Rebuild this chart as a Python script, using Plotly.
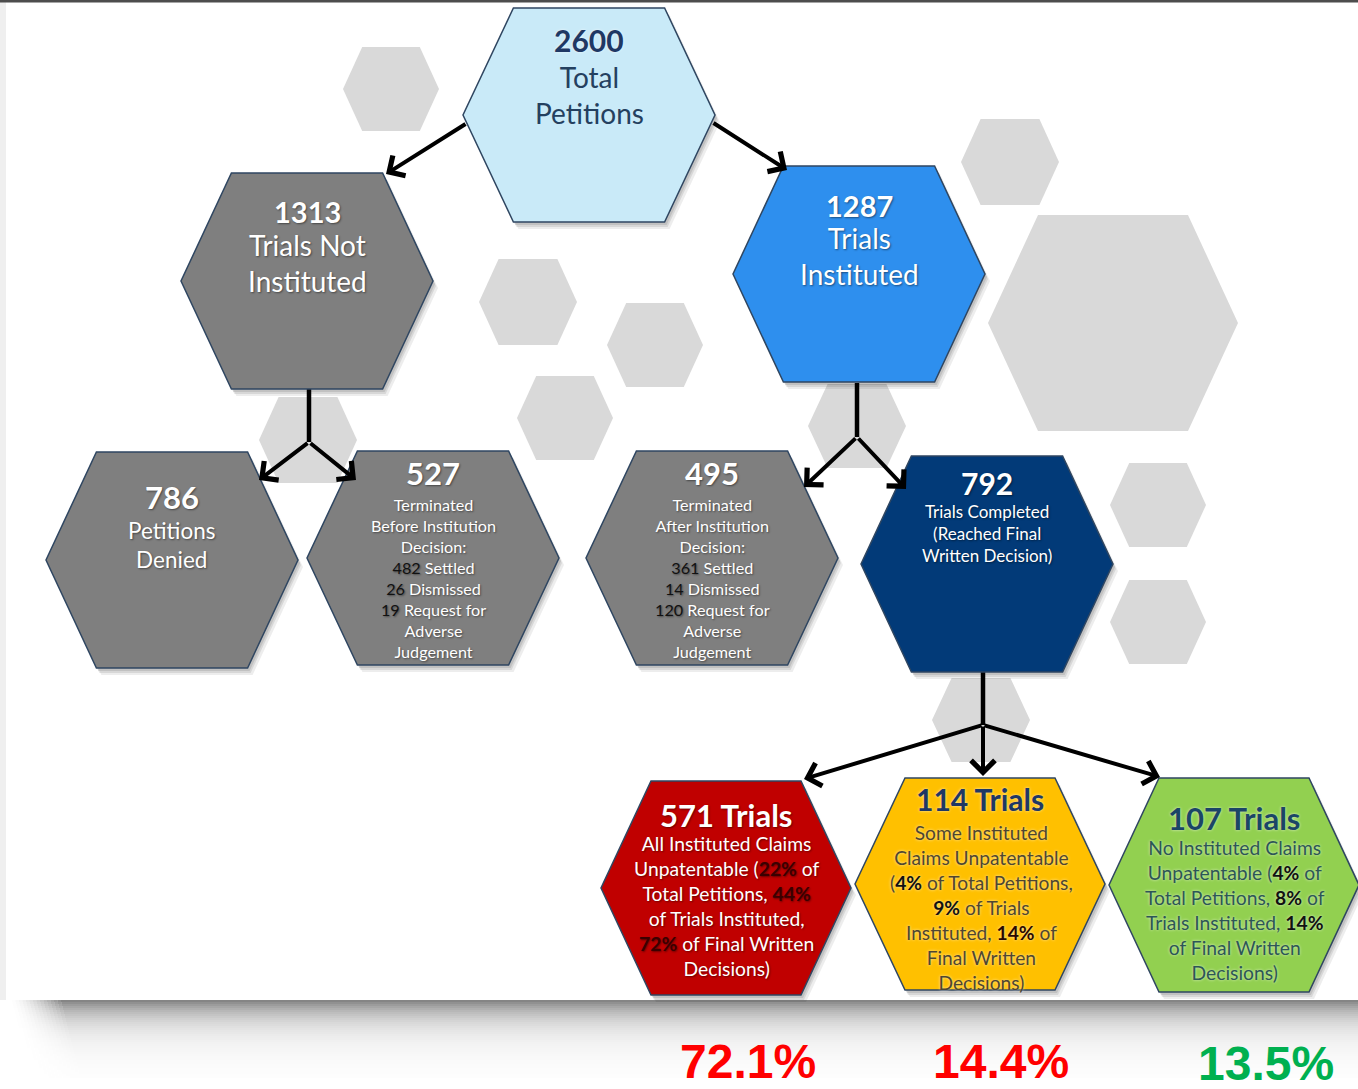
import math
import plotly.graph_objects as go

W, H = 1358, 1089

# ---------------- data ----------------
node_ids = ["total", "not_inst", "inst", "denied", "term_before",
            "term_after", "fwd", "all_unpat", "some_unpat", "no_unpat"]
node_counts = [2600, 1313, 1287, 786, 527, 495, 792, 571, 114, 107]
node_suffix = ["", "", "", "", "", "", "", " Trials", " Trials", " Trials"]
node_titles = [
    "Total<br>Petitions",
    "Trials Not<br>Instituted",
    "Trials<br>Instituted",
    "Petitions<br>Denied",
    "Terminated<br>Before Institution<br>Decision:",
    "Terminated<br>After Institution<br>Decision:",
    "Trials Completed<br>(Reached Final<br>Written Decision)",
    None, None, None,
]
before_counts = [482, 26, 19]       # settled, dismissed, request for adverse judgement
after_counts = [361, 14, 120]
outcome_pct_total = [22, 4, 4]
outcome_pct_instituted = [44, 9, 8]
outcome_pct_fwd = [72, 14, 14]
final_share_labels = ["72.1%", "14.4%", "13.5%"]

# ---------------- styles / layout ----------------
FONT = "Lato, Carlito, Calibri, sans-serif"
NARROW = "Liberation Sans Narrow, Arial Narrow, Liberation Sans, Arial"

style = {
    "total":       dict(c=(589, 115), hw=126, hh=107, fill="#c9eaf8", nc="#1f3864", ns=30, ny=40,  dc="#24405f", ds=28, dy=95),
    "not_inst":    dict(c=(307, 281), hw=126, hh=108, fill="#7f7f7f", nc="white",   ns=29, ny=211, dc="white",   ds=28, dy=263),
    "inst":        dict(c=(859, 274), hw=126, hh=108, fill="#2e8fee", nc="white",   ns=29, ny=205, dc="white",   ds=28, dy=256),
    "denied":      dict(c=(172, 560), hw=126, hh=108, fill="#7f7f7f", nc="white",   ns=31, ny=497, dc="white",   ds=22.5, dy=545),
    "term_before": dict(c=(433, 558), hw=126, hh=107, fill="#7f7f7f", nc="white",   ns=31, ny=473, dc="white",   ds=16.2, dy=578),
    "term_after":  dict(c=(712, 558), hw=126, hh=107, fill="#7f7f7f", nc="white",   ns=31, ny=473, dc="white",   ds=16.2, dy=578),
    "fwd":         dict(c=(987, 564), hw=126, hh=108, fill="#023a78", nc="white",   ns=30, ny=483, dc="white",   ds=17, dy=533),
    "all_unpat":   dict(c=(726, 888), hw=125, hh=107, fill="#c00000", nc="white",   ns=31, ny=815, dc="white",   ds=19.3, dy=906),
    "some_unpat":  dict(c=(980, 884), hw=125, hh=106, fill="#ffc000", nc="#1f3864", ns=30, ny=799, dc="#4f4630", ds=19.2, dy=907),
    "no_unpat":    dict(c=(1234, 885), hw=125, hh=107, fill="#92d050", nc="#1b4566", ns=31, ny=818, dc="#2d5656", ds=19.3, dy=910),
}
deco_hexes = [
    (391, 89, 48, 42), (1010, 162, 49, 43), (1113, 323, 125, 108),
    (528, 302, 49, 43), (655, 345, 48, 42), (565, 418, 48, 42),
    (308, 440, 49, 43), (857, 426, 49, 42), (1158, 505, 48, 42),
    (1158, 622, 48, 42), (981, 720, 49, 42),
]


def hex_path(cx, cy, hw, hh, k=0.6):
    tw = hw * k
    pts = [(cx - tw, cy - hh), (cx + tw, cy - hh), (cx + hw, cy),
           (cx + tw, cy + hh), (cx - tw, cy + hh), (cx - hw, cy)]
    return "M " + " L ".join(f"{x:.1f},{y:.1f}" for x, y in pts) + " Z"


shapes = []
# left edge of the panel
shapes.append(dict(type="rect", x0=0, x1=6, y0=0, y1=1000, fillcolor="#efefef", line_width=0))
# soft shadow below the panel (banded gradient)
PANEL_BOTTOM = 1000
band = 2
for j in range(45):
    d = j * band
    a = 0.48 * math.exp(-d / 19.0)
    if a < 0.008:
        break
    start = 12 + d * 0.25
    steps = 14
    seg = 3.5
    for k in range(steps):
        xa = start + k * seg
        shapes.append(dict(type="rect", x0=xa, x1=xa + seg, y0=PANEL_BOTTOM + d, y1=PANEL_BOTTOM + d + band,
                           fillcolor=f"rgba(0,0,0,{a * ((k + 1) / (steps + 1)) ** 1.5:.4f})", line_width=0))
    shapes.append(dict(type="rect", x0=start + steps * seg, x1=W, y0=PANEL_BOTTOM + d, y1=PANEL_BOTTOM + d + band,
                       fillcolor=f"rgba(0,0,0,{a:.4f})", line_width=0))
shapes.append(dict(type="rect", x0=6, x1=W, y0=0, y1=PANEL_BOTTOM, fillcolor="white", line_width=0))
shapes.append(dict(type="rect", x0=0, x1=W, y0=0, y1=2.5, fillcolor="#4d4d4d", line_width=0))

# decorative hexes
for cx, cy, hw, hh in deco_hexes:
    shapes.append(dict(type="path", path=hex_path(cx, cy, hw, hh), fillcolor="#d9d9d9", line_width=0))

# connector stems
stems = [((309, 388), (309, 442)), ((857, 383), (857, 437)), ((983, 672), (983, 725))]
for (x0, y0), (x1, y1) in stems:
    shapes.append(dict(type="line", x0=x0, y0=y0, x1=x1, y1=y1, line=dict(color="black", width=4.5)))

# main hexes with soft shadow
for nid in node_ids:
    s = style[nid]
    cx, cy = s["c"]
    for dx, dy, a in [(2, 3, 0.10), (3, 5, 0.09), (5, 7, 0.07)]:
        shapes.append(dict(type="path", path=hex_path(cx + dx, cy + dy, s["hw"], s["hh"]),
                           fillcolor=f"rgba(0,0,0,{a})", line_width=0))
    shapes.append(dict(type="path", path=hex_path(cx, cy, s["hw"], s["hh"]),
                       fillcolor=s["fill"], line=dict(color="#2f4661", width=1.5)))

annotations = []


def text_ann(x, y, text, size, color, shadow="none"):
    annotations.append(dict(x=x, y=y, xref="x", yref="y", text=text, showarrow=False,
                            xanchor="center", yanchor="middle", align="center",
                            font=dict(family=FONT, size=size, color=color, shadow=shadow)))


def dark(v, col="#111111", bold=False):
    t = f"<span style='color:{col}'>{v}</span>"
    return f"<b>{t}</b>" if bold else t


WHITE_SH = "1px 1px 2px rgba(0,0,0,0.45)"
LIGHT_SH = "0px 0px 3px rgba(255,255,255,0.7)"

for i, nid in enumerate(node_ids):
    s = style[nid]
    cx = s["c"][0]
    sh = WHITE_SH if s["nc"] == "white" else LIGHT_SH
    text_ann(cx, s["ny"], f"<b>{node_counts[i]}{node_suffix[i]}</b>", s["ns"], s["nc"], sh)

# descriptions
for i, nid in enumerate(node_ids[:7]):
    s = style[nid]
    txt = node_titles[i]
    if nid == "term_before":
        b = before_counts
        txt += (f"<br>{dark(b[0])} Settled<br>{dark(b[1])} Dismissed<br>"
                f"{dark(b[2])} Request for<br>Adverse<br>Judgement")
    if nid == "term_after":
        b = after_counts
        txt += (f"<br>{dark(b[0])} Settled<br>{dark(b[1])} Dismissed<br>"
                f"{dark(b[2])} Request for<br>Adverse<br>Judgement")
    sh = WHITE_SH if s["dc"] == "white" else "none"
    text_ann(s["c"][0], s["dy"], txt, s["ds"], s["dc"], sh)

pt, pi, pf = outcome_pct_total, outcome_pct_instituted, outcome_pct_fwd
RC = "#3a0000"
desc_all = (f"All Instituted Claims<br>Unpatentable ({dark(str(pt[0]) + '%', RC, True)} of<br>"
            f"Total Petitions, {dark(str(pi[0]) + '%', RC, True)}<br>of Trials Instituted,<br>"
            f"{dark(str(pf[0]) + '%', RC, True)} of Final Written<br>Decisions)")
desc_some = (f"Some Instituted<br>Claims Unpatentable<br>({dark(str(pt[1]) + '%', '#111', True)} of Total Petitions,<br>"
             f"{dark(str(pi[1]) + '%', '#111', True)} of Trials<br>Instituted, {dark(str(pf[1]) + '%', '#2a0800', True)} of<br>"
             f"Final Written<br>Decisions)")
desc_no = (f"No Instituted Claims<br>Unpatentable ({dark(str(pt[2]) + '%', '#111', True)} of<br>"
           f"Total Petitions, {dark(str(pi[2]) + '%', '#111', True)} of<br>Trials Instituted, "
           f"{dark(str(pf[2]) + '%', '#111', True)}<br>of Final Written<br>Decisions)")
for nid, txt in zip(["all_unpat", "some_unpat", "no_unpat"], [desc_all, desc_some, desc_no]):
    s = style[nid]
    sh = WHITE_SH if s["dc"] == "white" else LIGHT_SH
    text_ann(s["c"][0] + 1, s["dy"], txt, s["ds"], s["dc"], sh)

# arrows (tail -> tip)
arrows = [
    ((467, 123), (386, 174)), ((712, 122), (787, 170)),
    ((309, 442), (259, 480)), ((309, 442), (356, 480)),
    ((857, 437), (804, 487)), ((857, 437), (906, 489)),
    ((983, 725), (804, 779)), ((983, 725), (983, 776)), ((983, 725), (1160, 777)),
]
for (ax, ay), (x, y) in arrows:
    annotations.append(dict(x=x, y=y, ax=ax, ay=ay, xref="x", yref="y", axref="x", ayref="y",
                            text="", showarrow=True, arrowhead=4, arrowsize=1.15,
                            arrowwidth=4, arrowcolor="black", standoff=0, startstandoff=0))

# final shares at the bottom
share_colors = ["#ff0000", "#ff0000", "#00b050"]
share_pos = [(748, 1061), (1001, 1061), (1266, 1063)]
for lbl, col, (x, y) in zip(final_share_labels, share_colors, share_pos):
    annotations.append(dict(x=x, y=y, xref="x", yref="y", text=f"<b>{lbl}</b>", showarrow=False,
                            xanchor="center", yanchor="middle", borderpad=0,
                            font=dict(family=NARROW, size=48, color=col)))

fig = go.Figure()
fig.update_layout(
    width=W, height=H, autosize=False,
    margin=dict(l=0, r=0, t=0, b=0),
    paper_bgcolor="white", plot_bgcolor="white",
    xaxis=dict(range=[0, W], visible=False, fixedrange=True),
    yaxis=dict(range=[H, 0], visible=False, fixedrange=True),
    shapes=shapes, annotations=annotations, showlegend=False,
)
fig.write_html("out.html", config={"displayModeBar": False},
               post_script="document.body.style.margin='0';document.body.style.overflow='hidden';")
